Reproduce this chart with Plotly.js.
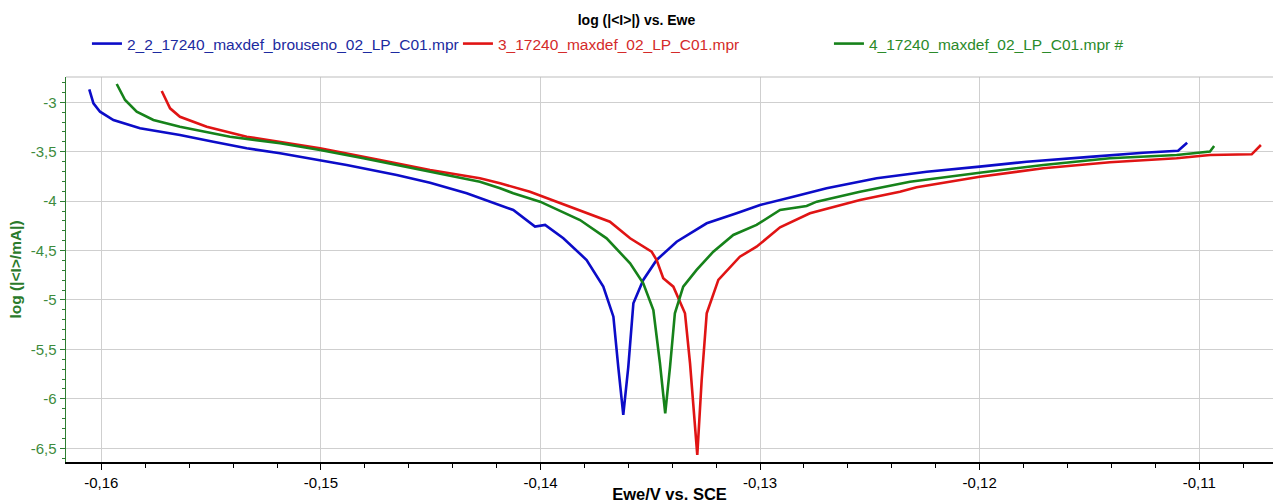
<!DOCTYPE html>
<html>
<head>
<meta charset="utf-8">
<script src="https://cdn.plot.ly/plotly-3.0.1.min.js"></script>
<style>html,body{margin:0;padding:0;background:#fff;}#chart{width:1273px;height:503px;}</style>
</head>
<body>
<div id="chart"></div>
<script>
// Series names
const names = [
  "2_2_17240_maxdef_brouseno_02_LP_C01.mpr",
  "3_17240_maxdef_02_LP_C01.mpr",
  "4_17240_maxdef_02_LP_C01.mpr #"
];

// Tick values and labels
const xTickVals = [-0.16, -0.15, -0.14, -0.13, -0.12, -0.11];
const xTickText = ["-0,16", "-0,15", "-0,14", "-0,13", "-0,12", "-0,11"];
const yTickVals = [-3, -3.5, -4, -4.5, -5, -5.5, -6, -6.5];
const yTickText = ["-3", "-3,5", "-4", "-4,5", "-5", "-5,5", "-6", "-6,5"];

// Series 1 (blue): Ewe (V) and log(|I|/mA)
const ewe1 = [-0.16055,-0.16036,-0.16006,-0.15945,-0.15824,-0.15642,-0.15490,-0.15338,-0.15186,-0.15004,
  -0.14883,-0.14655,-0.14503,-0.14336,-0.14184,-0.14124,-0.14025,-0.13979,-0.13896,-0.13790,
  -0.13714,-0.13668,-0.13646,-0.13623,-0.13600,-0.13577,-0.13532,-0.13471,-0.13380,-0.13243,
  -0.13107,-0.13000,-0.12849,-0.12697,-0.12469,-0.12241,-0.12000,-0.11786,-0.11483,-0.11255,
  -0.11096,-0.11055];
const logI1 = [-2.868,-3.010,-3.095,-3.179,-3.263,-3.331,-3.399,-3.465,-3.516,-3.584,
  -3.634,-3.735,-3.813,-3.920,-4.039,-4.089,-4.258,-4.241,-4.376,-4.595,
  -4.865,-5.169,-5.674,-6.163,-5.674,-5.033,-4.797,-4.595,-4.410,-4.224,
  -4.123,-4.039,-3.955,-3.870,-3.769,-3.702,-3.651,-3.601,-3.550,-3.510,
  -3.490,-3.409];

// Series 2 (red)
const ewe2 = [-0.15725,-0.15687,-0.15642,-0.15520,-0.15338,-0.15004,-0.14731,-0.14503,-0.14276,-0.14184,
  -0.14048,-0.13851,-0.13684,-0.13592,-0.13494,-0.13471,-0.13441,-0.13395,-0.13342,-0.13319,
  -0.13286,-0.13266,-0.13243,-0.13190,-0.13092,-0.13016,-0.12909,-0.12773,-0.12545,-0.12363,
  -0.12287,-0.12000,-0.11710,-0.11407,-0.11103,-0.10951,-0.10761,-0.10719];
const logI2 = [-2.886,-3.061,-3.146,-3.247,-3.348,-3.465,-3.584,-3.685,-3.769,-3.819,
  -3.904,-4.072,-4.208,-4.376,-4.511,-4.595,-4.780,-4.865,-5.134,-5.640,
  -6.568,-5.809,-5.134,-4.797,-4.562,-4.461,-4.265,-4.123,-3.988,-3.904,
  -3.860,-3.753,-3.668,-3.607,-3.566,-3.533,-3.526,-3.432];

// Series 3 (green)
const ewe3 = [-0.15930,-0.15892,-0.15839,-0.15763,-0.15642,-0.15414,-0.15186,-0.15004,-0.14807,-0.14579,
  -0.14427,-0.14276,-0.14184,-0.14124,-0.14002,-0.13820,-0.13699,-0.13592,-0.13532,-0.13486,
  -0.13456,-0.13432,-0.13410,-0.13388,-0.13350,-0.13289,-0.13213,-0.13122,-0.13016,-0.12909,
  -0.12788,-0.12742,-0.12545,-0.12317,-0.12000,-0.11710,-0.11407,-0.11103,-0.10951,-0.10932];
const logI3 = [-2.815,-2.977,-3.095,-3.179,-3.247,-3.348,-3.415,-3.482,-3.566,-3.668,
  -3.735,-3.803,-3.870,-3.920,-4.005,-4.191,-4.376,-4.629,-4.831,-5.101,
  -5.640,-6.146,-5.674,-5.134,-4.865,-4.696,-4.511,-4.342,-4.241,-4.089,
  -4.049,-4.005,-3.904,-3.803,-3.712,-3.634,-3.566,-3.533,-3.498,-3.442];

const lineColors = ["#0c0cc8", "#e01414", "#16821a"];
const textColors = ["#1c2aa0", "#d42a2a", "#2a8a2a"];

const xs = [ewe1, ewe2, ewe3];
const ys = [logI1, logI2, logI3];

const traces = names.map((n, i) => ({
  x: xs[i], y: ys[i], type: "scatter", mode: "lines",
  name: '<span style="color:' + textColors[i] + '">' + n + '</span>',
  line: {color: lineColors[i], width: 2.6}
}));

const font = "Arial, 'Liberation Sans', sans-serif";

const layout = {
  width: 1273, height: 503,
  margin: {l: 66, r: 0, t: 77, b: 41},
  paper_bgcolor: "#fff", plot_bgcolor: "#fff",
  separators: ", ",
  font: {family: font, size: 13, color: "#000"},
  title: {text: "<b>log (|&lt;I&gt;|) vs. Ewe</b>", x: 0.5, xref: "container", xanchor: "center",
          y: 1 - 20/503, yref: "container", yanchor: "middle", font: {size: 14, color: "#000", family: font}},
  showlegend: true,
  legend: {orientation: "h", xref: "container", yref: "container", x: 0.0683, y: 1 - 44/503,
           xanchor: "left", yanchor: "middle", entrywidth: 326, itemwidth: 30,
           font: {size: 15.5, family: font}, bgcolor: "rgba(0,0,0,0)", borderwidth: 0},
  xaxis: {
    range: [-0.16161, -0.10664], tickmode: "array", tickvals: xTickVals, ticktext: xTickText,
    showgrid: true, gridcolor: "#cfcfcf", gridwidth: 1, zeroline: false,
    showline: true, linecolor: "#000", linewidth: 2,
    ticks: "outside", ticklen: 6, tickcolor: "#000", tickwidth: 1,
    tickfont: {size: 15, color: "#000", family: font},
    minor: {tickmode: "linear", dtick: 0.002, tick0: -0.16, ticks: "outside", ticklen: 4, tickcolor: "#000", showgrid: false},
    title: {text: "<b>Ewe/V vs. SCE</b>", font: {size: 16.5, color: "#000", family: font}, standoff: 1}
  },
  yaxis: {
    range: [-6.639, -2.744], tickmode: "array", tickvals: yTickVals, ticktext: yTickText,
    showgrid: true, gridcolor: "#cfcfcf", gridwidth: 1, zeroline: false,
    showline: true, linecolor: "#2e7d32", linewidth: 1.5,
    ticks: "outside", ticklen: 5, tickcolor: "#2e7d32", tickwidth: 1,
    tickfont: {size: 15, color: "#3d8b3d", family: font},
    minor: {tickmode: "linear", dtick: 0.1, tick0: -3, ticks: "outside", ticklen: 3, tickcolor: "#2e7d32", showgrid: false},
    title: {text: "<b>log (|&lt;I&gt;/mA|)</b>", font: {size: 15.5, color: "#2a7a2a", family: font}, standoff: 5}
  },
  shapes: [
    {type: "line", xref: "paper", yref: "paper", x0: 0, x1: 1, y0: 1, y1: 1, line: {color: "#bdbdbd", width: 1}}
  ]
};

Plotly.newPlot("chart", traces, layout, {displayModeBar: false, staticPlot: true});
</script>
</body>
</html>
